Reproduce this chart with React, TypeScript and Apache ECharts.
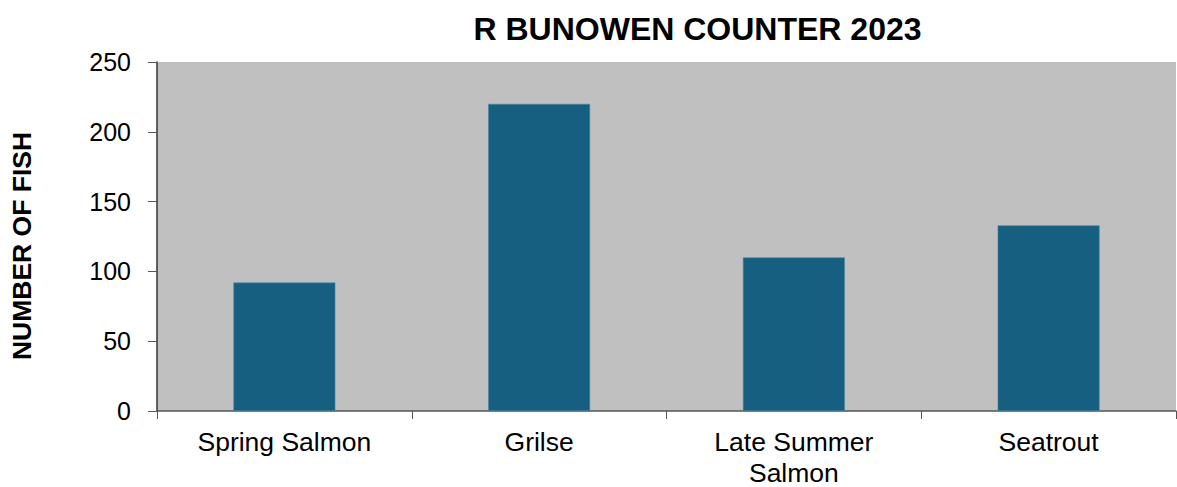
import React, { useEffect, useRef } from "react";
import * as echarts from "echarts";

const categories = ["Spring Salmon", "Grilse", "Late Summer\nSalmon", "Seatrout"];
const fishCounts = [92, 220, 110, 133];
const titleText = "R BUNOWEN COUNTER 2023";
const yAxisName = "NUMBER OF FISH";

export default function App() {
  const ref = useRef<HTMLDivElement>(null);
  useEffect(() => {
    if (!ref.current) return;
    const chart = echarts.init(ref.current, null, { renderer: "svg" });
    chart.setOption({
      animation: false,
      title: {
        text: titleText,
        left: 692.5,
        textAlign: "center",
        top: 8,
        textStyle: { fontFamily: "Liberation Sans", fontSize: 32, fontWeight: "bold", color: "#000" },
      },
      graphic: [
        {
          type: "text",
          x: 22,
          y: 246,
          rotation: Math.PI / 2,
          style: {
            text: yAxisName,
            fontFamily: "Liberation Sans",
            fontSize: 26.5,
            fontWeight: "bold",
            fill: "#000",
            align: "center",
            verticalAlign: "middle",
          },
        },
      ],
      grid: {
        left: 157,
        right: 1,
        top: 62,
        bottom: 76,
        show: true,
        backgroundColor: "#C0C0C0",
        borderWidth: 0,
        outerBoundsMode: "none",
        containLabel: false,
      },
      xAxis: {
        type: "category",
        data: categories,
        axisLine: { lineStyle: { color: "#555", width: 1.5 } },
        axisTick: { show: true, length: 8, lineStyle: { color: "#555" } },
        axisLabel: {
          color: "#000",
          fontFamily: "Liberation Sans",
          fontSize: 26.5,
          margin: 15,
          lineHeight: 31,
        },
      },
      yAxis: {
        type: "value",
        min: 0,
        max: 250,
        interval: 50,
        axisLine: { show: true, lineStyle: { color: "#333", width: 1.5 } },
        axisTick: { show: true, length: 9, lineStyle: { color: "#555" } },
        splitLine: { show: false },
        axisLabel: { color: "#000", fontFamily: "Liberation Sans", fontSize: 25, margin: 26 },
      },
      series: [
        {
          type: "bar",
          data: fishCounts,
          barWidth: "40%",
          itemStyle: { color: "#175F80", borderColor: "#4A86A0", borderWidth: 0.6 },
        },
      ],
    });
    return () => chart.dispose();
  }, []);
  return <div ref={ref} style={{ width: 1177, height: 487, position: "absolute", left: 0, top: 0 }} />;
}
